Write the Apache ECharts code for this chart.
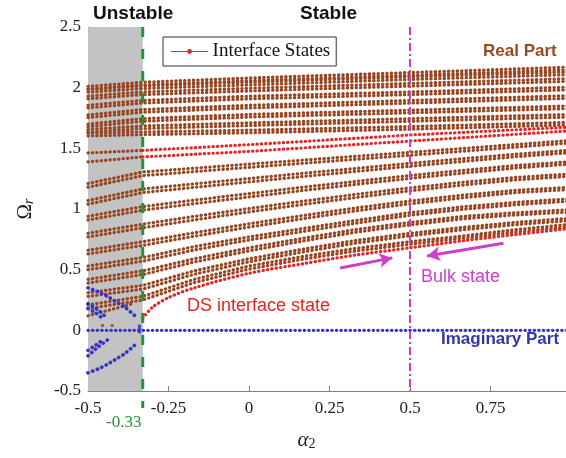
<!DOCTYPE html>
<html>
<head>
<meta charset="utf-8">
<script src="https://cdn.jsdelivr.net/npm/echarts@6/dist/echarts.min.js"></script>
<style>
  html, body { margin: 0; padding: 0; background: #fff; }
  #chart { width: 566px; height: 458px; }
</style>
</head>
<body>
<div id="chart"></div>
<script>
// ---- eigenfrequency branches, Omega_r versus alpha_2 ----
const xTicks = [-0.5, -0.25, 0, 0.25, 0.5, 0.75, 1];
const yTicks = [-0.5, 0, 0.5, 1, 1.5, 2, 2.5];
const criticalAlpha = -0.33;   // stability boundary
const bulkAlpha = 0.5;         // bulk-state marker

// upper (optical) band, pairs of close branches, sampled at upperX
const upperX = [-0.5, -0.33, 0, 0.5, 1.0];
const upperBand = [
  [2.01, 2.045, 2.08, 2.125, 2.17],
  [1.988, 2.023, 2.058, 2.103, 2.148],
  [1.985, 2.015, 2.045, 2.09, 2.13],
  [1.963, 1.993, 2.023, 2.068, 2.108],
  [1.93, 1.965, 1.995, 2.035, 2.075],
  [1.908, 1.943, 1.973, 2.013, 2.053],
  [1.855, 1.895, 1.93, 1.965, 2.005],
  [1.833, 1.873, 1.908, 1.943, 1.983],
  [1.775, 1.82, 1.855, 1.895, 1.935],
  [1.753, 1.798, 1.833, 1.873, 1.913],
  [1.70, 1.745, 1.78, 1.815, 1.85],
  [1.678, 1.723, 1.758, 1.793, 1.828],
  [1.655, 1.685, 1.71, 1.745, 1.78],
  [1.633, 1.663, 1.688, 1.723, 1.758],
  [1.625, 1.635, 1.65, 1.68, 1.715],
  [1.603, 1.613, 1.628, 1.658, 1.693]
];

// lower (acoustic) band, pairs of close branches, sampled at lowerX
const lowerX = [-0.5, -0.33, -0.17, 0, 0.17, 0.33, 0.5, 0.67, 0.83, 1.0];
const lowerBand = [
  [1.21, 1.305, 1.336, 1.37, 1.403, 1.434, 1.467, 1.50, 1.532, 1.565],
  [1.18, 1.275, 1.308, 1.343, 1.377, 1.409, 1.443, 1.477, 1.51, 1.545],
  [1.07, 1.165, 1.207, 1.251, 1.295, 1.334, 1.376, 1.416, 1.452, 1.485],
  [1.04, 1.135, 1.178, 1.223, 1.268, 1.309, 1.352, 1.393, 1.431, 1.465],
  [0.94, 1.02, 1.073, 1.127, 1.18, 1.227, 1.276, 1.32, 1.359, 1.39],
  [0.91, 0.99, 1.044, 1.099, 1.153, 1.202, 1.252, 1.297, 1.338, 1.37],
  [0.80, 0.875, 0.939, 1.004, 1.065, 1.12, 1.174, 1.222, 1.261, 1.29],
  [0.77, 0.845, 0.91, 0.976, 1.038, 1.094, 1.15, 1.199, 1.24, 1.27],
  [0.66, 0.73, 0.804, 0.878, 0.947, 1.008, 1.066, 1.116, 1.155, 1.18],
  [0.63, 0.70, 0.776, 0.851, 0.921, 0.984, 1.043, 1.094, 1.135, 1.16],
  [0.53, 0.60, 0.69, 0.77, 0.84, 0.905, 0.97, 1.02, 1.055, 1.085],
  [0.50, 0.57, 0.662, 0.745, 0.816, 0.882, 0.948, 0.999, 1.035, 1.065],
  [0.42, 0.49, 0.59, 0.68, 0.76, 0.83, 0.89, 0.94, 0.97, 0.995],
  [0.39, 0.46, 0.563, 0.655, 0.737, 0.808, 0.869, 0.92, 0.951, 0.975],
  [0.31, 0.37, 0.49, 0.59, 0.67, 0.74, 0.80, 0.85, 0.89, 0.925],
  [0.28, 0.34, 0.462, 0.565, 0.647, 0.718, 0.779, 0.83, 0.871, 0.905],
  [0.21, 0.28, 0.42, 0.53, 0.61, 0.675, 0.73, 0.78, 0.83, 0.875],
  [0.18, 0.25, 0.393, 0.505, 0.587, 0.653, 0.709, 0.761, 0.81, 0.855]
];

// interface states inside the gap
const interfaceX = [-0.5, -0.33, 0, 0.5, 1.0];
const interfaceStates = [
  [1.462, 1.483, 1.53, 1.61, 1.675],
  [1.388, 1.429, 1.475, 1.56, 1.645]
];

// DS interface state (stable side only)
const dsX = [-0.33, -0.3, -0.25, -0.17, 0, 0.17, 0.33, 0.5, 0.67, 0.83, 1.0];
const dsState = [0.10, 0.19, 0.27, 0.35, 0.47, 0.55, 0.62, 0.68, 0.74, 0.79, 0.84];

// real parts of the complex pairs in the unstable region
const complexRealX = [-0.5, -0.43, -0.36];
const complexReal = [0.12, 0.17, 0.22];
const complexRealDots = [[-0.455, 0.04], [-0.425, 0.04]];

// imaginary parts
const imagZeroX = [-0.5, 1.0];
const imagZero = [0, 0];
const imagBranches = [
  { x: [-0.5, -0.47, -0.44, -0.415, -0.385, -0.35], y: [0.35, 0.32, 0.28, 0.24, 0.19, 0.11] },
  { x: [-0.5, -0.47, -0.44, -0.415, -0.385, -0.35], y: [-0.35, -0.32, -0.28, -0.24, -0.19, -0.11] },
  { x: [-0.5, -0.47, -0.44], y: [0.22, 0.17, 0.10] },
  { x: [-0.5, -0.47, -0.44], y: [-0.21, -0.14, -0.08] },
  { x: [-0.5, -0.48, -0.46], y: [0.18, 0.15, 0.11] },
  { x: [-0.5, -0.475, -0.46], y: [-0.165, -0.12, -0.09] }
];
const imagDots = [[-0.34, 0.035], [-0.34, 0.012], [-0.34, -0.012]];

// bulk-state arrows [from, to]
const arrows = [
  [[0.283, 0.514], [0.445, 0.597]],
  [[0.79, 0.718], [0.553, 0.613]]
];

const BROWN = '#974420';
const RED = '#E52525';
const BLUE = '#3535C5';
const MAGENTA = '#CC3FCC';
const GREEN = '#1E9632';

const zip = (xs, ys) => xs.map((x, i) => [x, ys[i]]);

function dotted(name, data, color, z, extra) {
  return Object.assign({
    type: 'line', name: name, data: data,
    smooth: false,
    symbol: 'circle', symbolSize: 4, showSymbol: false,
    silent: true, animation: false, z: z,
    lineStyle: { color: color, width: 3.2, type: [0.3, 4.1], cap: 'round' },
    itemStyle: { color: color }
  }, extra || {});
}

const series = [];

// unstable region shading
series.push({
  type: 'line', data: [], silent: true, z: 0,
  markArea: {
    silent: true,
    itemStyle: { color: '#C3C3C3' },
    data: [[{ xAxis: -0.5 }, { xAxis: criticalAlpha }]]
  }
});

upperBand.forEach((ys, i) => series.push(dotted('upper' + i, zip(upperX, ys), BROWN, 2)));
lowerBand.forEach((ys, i) => series.push(dotted('lower' + i, zip(lowerX, ys), BROWN, 2)));

interfaceStates.forEach((ys, i) => {
  const pts = zip(interfaceX, ys);
  const split = interfaceX.indexOf(criticalAlpha);
  series.push(dotted('ifu' + i, pts.slice(0, split + 1), BROWN, 2));
  series.push(dotted('Interface States', pts.slice(split), RED, 3));
});
series.push(dotted('Interface States', zip(dsX, dsState), RED, 3, { smooth: 0.3 }));

series.push(dotted('complexReal', zip(complexRealX, complexReal), BROWN, 2));
series.push({
  type: 'scatter', data: complexRealDots, symbolSize: 3.5, silent: true,
  itemStyle: { color: BROWN }, z: 2
});

series.push(dotted('imag0', zip(imagZeroX, imagZero), BLUE, 4,
  { lineStyle: { color: BLUE, width: 3.4, type: [0.3, 4.3], cap: 'round' } }));
imagBranches.forEach((b, i) => series.push(dotted('imag' + (i + 1), zip(b.x, b.y), BLUE, 4,
  { smooth: 0.3, lineStyle: { color: BLUE, width: 3.6, type: [0.3, 4.6], cap: 'round' } })));
series.push({
  type: 'scatter', data: imagDots, symbolSize: 3.8, silent: true,
  itemStyle: { color: BLUE }, z: 4
});

// stability boundary, running down to its tick label
series.push({
  type: 'line', data: [[criticalAlpha, 2.5], [criticalAlpha, -0.64]],
  showSymbol: false, symbol: 'none', clip: false, silent: true, z: 6,
  lineStyle: { color: GREEN, width: 3, type: [10, 12] }
});
// bulk-state line with its arrows
series.push({
  type: 'line', data: [[bulkAlpha, 2.5], [bulkAlpha, -0.5]],
  showSymbol: false, symbol: 'none', silent: true, z: 6,
  lineStyle: { color: MAGENTA, width: 2, type: [8, 3, 2, 3] },
  markLine: {
    silent: true, symbol: ['none', 'arrow'], symbolSize: [11, 13],
    label: { show: false },
    lineStyle: { color: MAGENTA, width: 3, type: 'solid' },
    data: arrows.map(a => [{ coord: a[0] }, { coord: a[1] }])
  }
});

const serif = '"Liberation Serif", "Times New Roman", serif';
const sans = '"Liberation Sans", Arial, sans-serif';

const chart = echarts.init(document.getElementById('chart'), null, { renderer: 'canvas' });
chart.setOption({
  animation: false,
  backgroundColor: '#fff',
  grid: { left: 88, width: 483, top: 27, bottom: 67, containLabel: false, outerBoundsMode: 'none' },
  legend: {
    data: ['Interface States'],
    left: 163, top: 37,
    backgroundColor: '#fff', borderColor: '#333', borderWidth: 1, borderRadius: 0,
    padding: [5, 6, 5, 8],
    itemWidth: 36, itemHeight: 6, itemGap: 4,
    textStyle: { fontFamily: serif, fontSize: 19, color: '#111' },
    lineStyle: { type: 'solid', width: 1.2, color: RED },
    itemStyle: { color: RED }
  },
  xAxis: {
    type: 'value', min: -0.5, max: 1, interval: 0.25,
    splitLine: { show: false },
    axisLine: { onZero: false, lineStyle: { color: '#808080', width: 1 } },
    axisTick: { inside: true, length: 5, lineStyle: { color: '#808080' } },
    axisLabel: {
      margin: 9, fontFamily: serif, fontSize: 17, color: '#222',
      formatter: v => String(xTicks.find(t => Math.abs(t - v) < 1e-9))
    },
    name: '{a|α}{s|2}', nameLocation: 'middle', nameGap: 38,
    nameTextStyle: {
      padding: [0, 46, 0, 0],
      rich: {
        a: { fontFamily: serif, fontStyle: 'italic', fontSize: 21, color: '#222' },
        s: { fontFamily: serif, fontSize: 14, color: '#222', verticalAlign: 'bottom', padding: [8, 0, 0, 0] }
      }
    }
  },
  yAxis: {
    type: 'value', min: -0.5, max: 2.5, interval: 0.5,
    splitLine: { show: false },
    axisLine: { show: true, onZero: false, lineStyle: { color: '#808080', width: 1 } },
    axisTick: { show: true, inside: true, length: 5, lineStyle: { color: '#808080' } },
    axisLabel: {
      margin: 7, fontFamily: serif, fontSize: 17, color: '#222',
      formatter: v => String(yTicks.find(t => Math.abs(t - v) < 1e-9))
    },
    name: '{o|Ω}{s|r}', nameLocation: 'middle', nameGap: 52, nameRotate: 90,
    nameTextStyle: {
      rich: {
        o: { fontFamily: serif, fontSize: 21, color: '#222' },
        s: { fontFamily: serif, fontStyle: 'italic', fontSize: 14, color: '#222', verticalAlign: 'bottom', padding: [8, 0, 0, 0] }
      }
    }
  },
  graphic: [
    { type: 'text', left: 93, top: 4, style: { text: 'Unstable', font: 'bold 19px ' + sans, fill: '#111' } },
    { type: 'text', left: 300, top: 4, style: { text: 'Stable', font: 'bold 19px ' + sans, fill: '#111' } },
    { type: 'text', left: 483, top: 43, style: { text: 'Real Part', font: 'bold 17px ' + sans, fill: '#9A4A22' } },
    { type: 'text', left: 421, top: 268, style: { text: 'Bulk state', font: '18px ' + sans, fill: MAGENTA } },
    { type: 'text', left: 187, top: 297, style: { text: 'DS interface state', font: '18px ' + sans, fill: RED } },
    { type: 'text', left: 441, top: 331, style: { text: 'Imaginary Part', font: 'bold 17px ' + sans, fill: '#3535A8' } },
    { type: 'text', left: 106, top: 414, style: { text: '-0.33', font: '17px ' + serif, fill: GREEN } }
  ],
  series: series
});
</script>
</body>
</html>
